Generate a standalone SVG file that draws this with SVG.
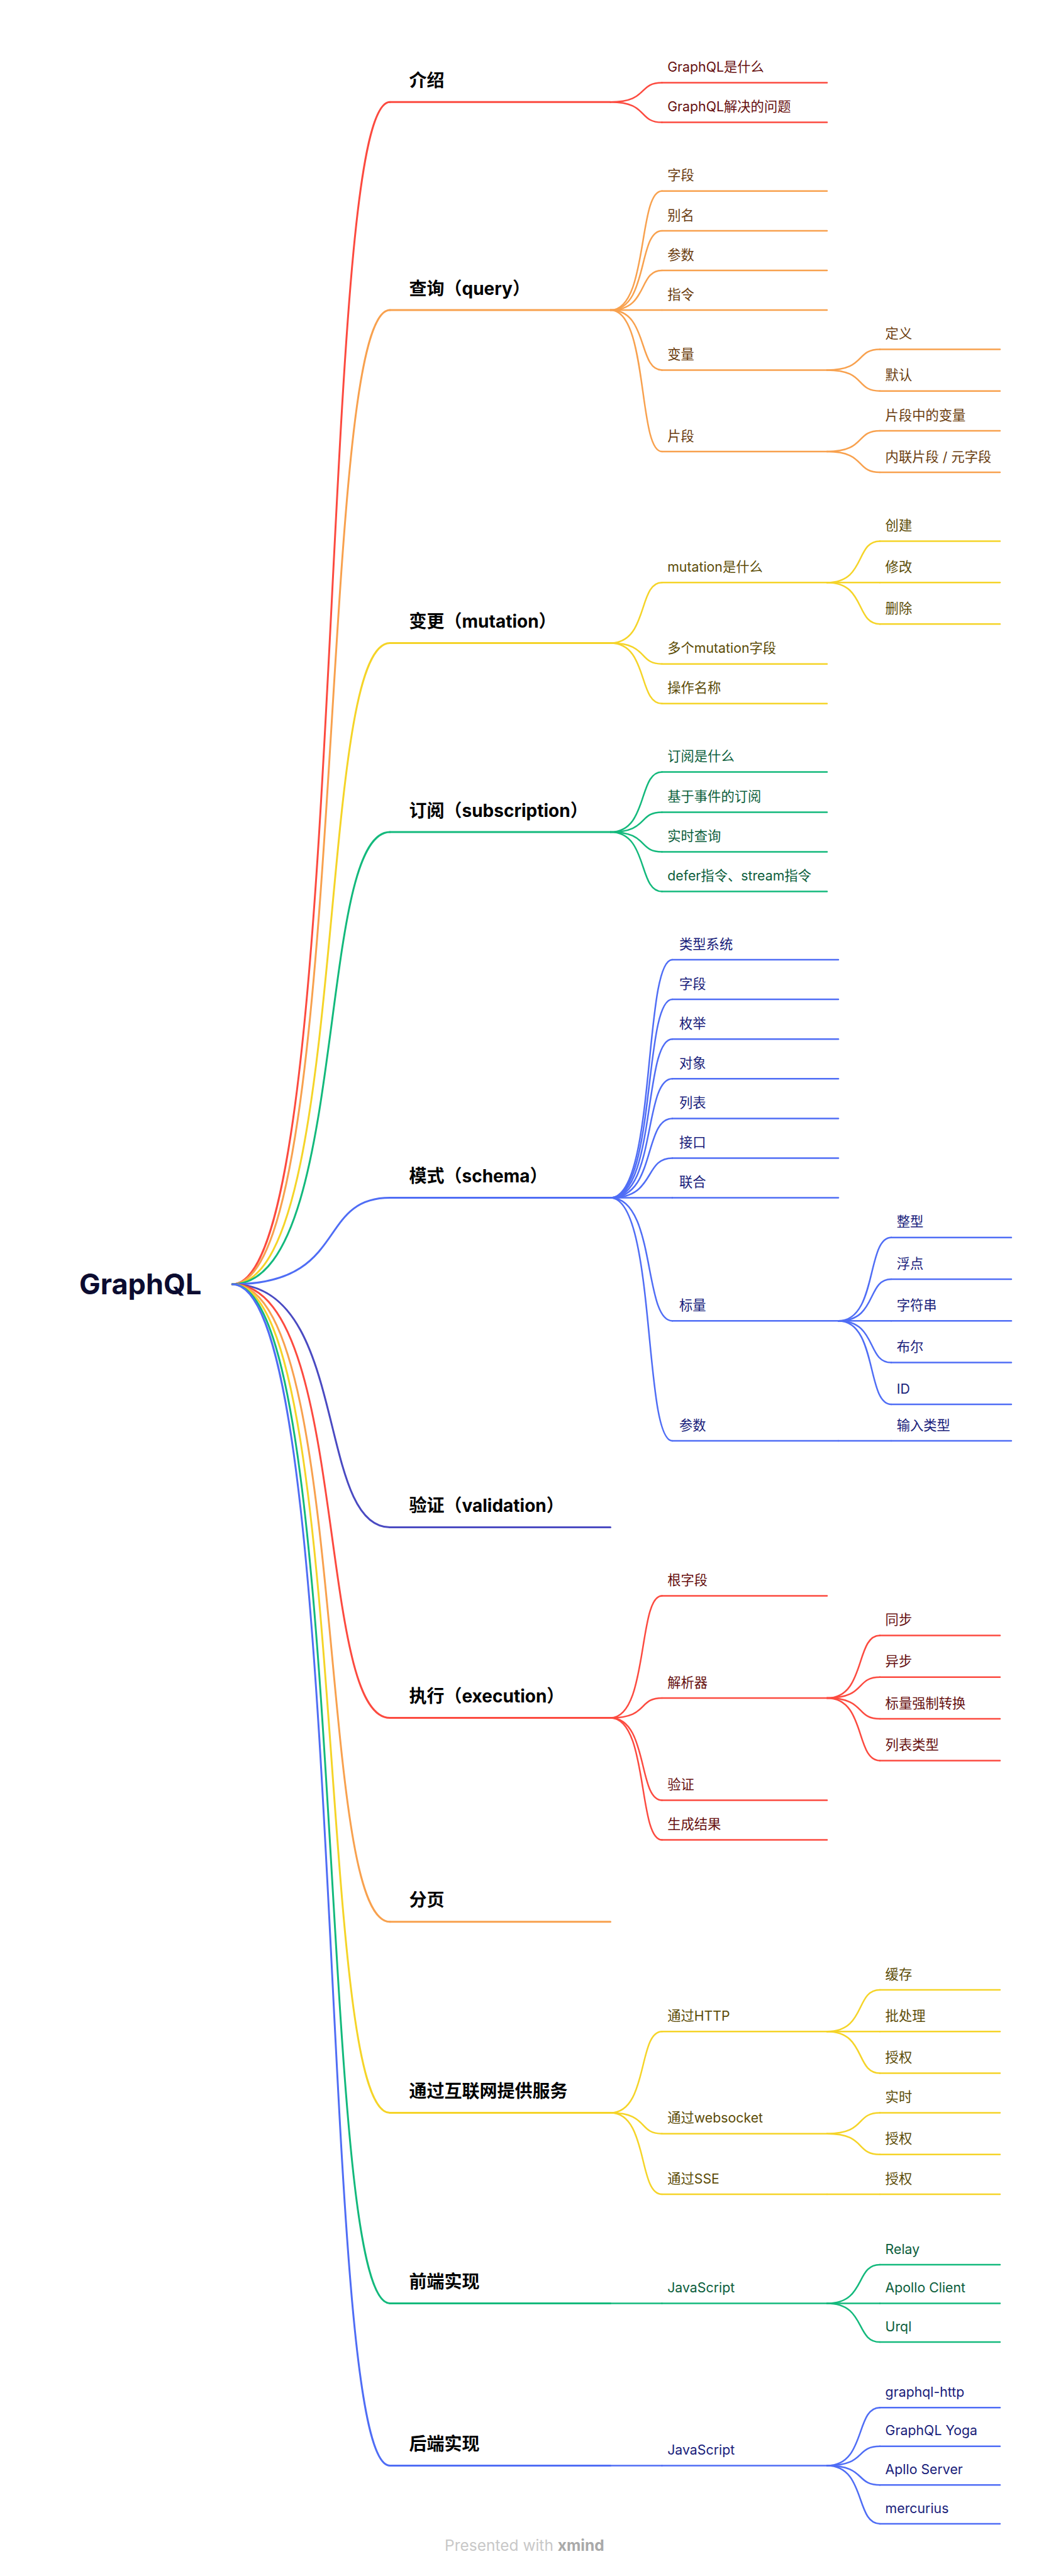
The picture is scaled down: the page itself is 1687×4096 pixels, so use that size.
<svg xmlns="http://www.w3.org/2000/svg" width="1687" height="4096" viewBox="0 0 1687 4096">
<style>
.c{fill:none;stroke-linecap:round}
.w1{stroke-width:3}
.w2{stroke-width:2.5}
.sr{stroke:#FC4A3F}.so{stroke:#F8A14E}.sy{stroke:#F5D428}.sg{stroke:#13B97C}.sb{stroke:#4F6DF5}.si{stroke:#4A4AC2}
text{font-family:Inter,"Noto Sans CJK SC",sans-serif}
.t0{font-size:45px;font-weight:700;fill:#0C0C30}
.t1{font-size:28px;font-weight:700;fill:#000}
.t2{font-size:21.3px}
.fr{fill:#660F0F}.fo{fill:#6B3D0F}.fy{fill:#5C4C06}.fg{fill:#0B5E3C}.fb{fill:#18207A}
.wm{font-size:24.5px;fill:#C8C8C8}
</style>
<rect width="1687" height="4096" fill="#fff"/>
<g id="connectors">
<path class="c w1 sr" d="M369.3 2042C555.3 2042 501.7 162.2 620 162.2"/>
<path class="c w1 so" d="M369.3 2042C555.3 2042 501.7 493.1 620 493.1"/>
<path class="c w1 sy" d="M369.3 2042C555.3 2042 501.7 1022.5 620 1022.5"/>
<path class="c w1 sg" d="M369.3 2042C555.3 2042 501.7 1323 620 1323"/>
<path class="c w1 sb" d="M369.3 2042C555.3 2042 501.7 1904.6 620 1904.6"/>
<path class="c w1 si" d="M369.3 2042C555.3 2042 501.7 2428.5 620 2428.5"/>
<path class="c w1 sr" d="M369.3 2042C555.3 2042 501.7 2731.5 620 2731.5"/>
<path class="c w1 so" d="M369.3 2042C555.3 2042 501.7 3055.8 620 3055.8"/>
<path class="c w1 sy" d="M369.3 2042C555.3 2042 501.7 3359.6 620 3359.6"/>
<path class="c w1 sg" d="M369.3 2042C555.3 2042 501.7 3662.5 620 3662.5"/>
<path class="c w1 sb" d="M369.3 2042C555.3 2042 501.7 3920.5 620 3920.5"/>
<!-- level 2 -->
<path class="c w2 sr" d="M970.5 162.2C1031.3 162.2 1013.8 131.4 1052.5 131.4"/>
<path class="c w2 sr" d="M970.5 162.2C1031.3 162.2 1013.8 194.6 1052.5 194.6"/>
<path class="c w2 so" d="M970.5 493.1C1031.3 493.1 1013.8 303.8 1052.5 303.8"/>
<path class="c w2 so" d="M970.5 493.1C1031.3 493.1 1013.8 366.9 1052.5 366.9"/>
<path class="c w2 so" d="M970.5 493.1C1031.3 493.1 1013.8 430 1052.5 430"/>
<path class="c w2 so" d="M970.5 493.1H1052.5"/>
<path class="c w2 so" d="M970.5 493.1C1031.3 493.1 1013.8 588.4 1052.5 588.4"/>
<path class="c w2 so" d="M970.5 493.1C1031.3 493.1 1013.8 718 1052.5 718"/>
<path class="c w2 sy" d="M970.5 1022.5C1031.3 1022.5 1013.8 926.3 1052.5 926.3"/>
<path class="c w2 sy" d="M970.5 1022.5C1031.3 1022.5 1013.8 1055.7 1052.5 1055.7"/>
<path class="c w2 sy" d="M970.5 1022.5C1031.3 1022.5 1013.8 1118.8 1052.5 1118.8"/>
<path class="c w2 sg" d="M970.5 1323C1031.3 1323 1013.8 1227.5 1052.5 1227.5"/>
<path class="c w2 sg" d="M970.5 1323C1031.3 1323 1013.8 1291.5 1052.5 1291.5"/>
<path class="c w2 sg" d="M970.5 1323C1031.3 1323 1013.8 1354.5 1052.5 1354.5"/>
<path class="c w2 sg" d="M970.5 1323C1031.3 1323 1013.8 1417.6 1052.5 1417.6"/>
<path class="c w2 sb" d="M970.5 1904.6C1043.6 1904.6 1022.5 1525.9 1069 1525.9"/>
<path class="c w2 sb" d="M970.5 1904.6C1043.6 1904.6 1022.5 1589 1069 1589"/>
<path class="c w2 sb" d="M970.5 1904.6C1043.6 1904.6 1022.5 1652.2 1069 1652.2"/>
<path class="c w2 sb" d="M970.5 1904.6C1043.6 1904.6 1022.5 1715.3 1069 1715.3"/>
<path class="c w2 sb" d="M970.5 1904.6C1043.6 1904.6 1022.5 1778.4 1069 1778.4"/>
<path class="c w2 sb" d="M970.5 1904.6C1043.6 1904.6 1022.5 1841.5 1069 1841.5"/>
<path class="c w2 sb" d="M970.5 1904.6H1069"/>
<path class="c w2 sb" d="M970.5 1904.6C1043.6 1904.6 1022.5 2100.3 1069 2100.3"/>
<path class="c w2 sb" d="M970.5 1904.6C1043.6 1904.6 1022.5 2291 1069 2291"/>
<path class="c w2 sr" d="M970.5 2731.5C1031.3 2731.5 1013.8 2537.4 1052.5 2537.4"/>
<path class="c w2 sr" d="M970.5 2731.5C1031.3 2731.5 1013.8 2700 1052.5 2700"/>
<path class="c w2 sr" d="M970.5 2731.5C1031.3 2731.5 1013.8 2862.5 1052.5 2862.5"/>
<path class="c w2 sr" d="M970.5 2731.5C1031.3 2731.5 1013.8 2925.6 1052.5 2925.6"/>
<path class="c w2 sy" d="M970.5 3359.6C1031.3 3359.6 1013.8 3230.2 1052.5 3230.2"/>
<path class="c w2 sy" d="M970.5 3359.6C1031.3 3359.6 1013.8 3392.7 1052.5 3392.7"/>
<path class="c w2 sy" d="M970.5 3359.6C1031.3 3359.6 1013.8 3489 1052.5 3489"/>
<path class="c w2 sg" d="M970.5 3662.5H1052.5"/>
<path class="c w2 sb" d="M970.5 3920.5H1052.5"/>
<!-- level 3 -->
<path class="c w2 so" d="M1315 588.4C1377.3 588.4 1359.4 555.5 1399 555.5"/>
<path class="c w2 so" d="M1315 588.4C1377.3 588.4 1359.4 621.7 1399 621.7"/>
<path class="c w2 so" d="M1315 718C1377.3 718 1359.4 684.9 1399 684.9"/>
<path class="c w2 so" d="M1315 718C1377.3 718 1359.4 751.1 1399 751.1"/>
<path class="c w2 sy" d="M1315 926.3C1377.3 926.3 1359.4 860.4 1399 860.4"/>
<path class="c w2 sy" d="M1315 926.3H1399"/>
<path class="c w2 sy" d="M1315 926.3C1377.3 926.3 1359.4 992.2 1399 992.2"/>
<path class="c w2 sb" d="M1333 2100.3C1395.3 2100.3 1377.4 1967.8 1417 1967.8"/>
<path class="c w2 sb" d="M1333 2100.3C1395.3 2100.3 1377.4 2034 1417 2034"/>
<path class="c w2 sb" d="M1333 2100.3H1417"/>
<path class="c w2 sb" d="M1333 2100.3C1395.3 2100.3 1377.4 2166.6 1417 2166.6"/>
<path class="c w2 sb" d="M1333 2100.3C1395.3 2100.3 1377.4 2232.9 1417 2232.9"/>
<path class="c w2 sb" d="M1333 2291H1417"/>
<path class="c w2 sr" d="M1315 2700C1377.3 2700 1359.4 2600.5 1399 2600.5"/>
<path class="c w2 sr" d="M1315 2700C1377.3 2700 1359.4 2666.8 1399 2666.8"/>
<path class="c w2 sr" d="M1315 2700C1377.3 2700 1359.4 2733.1 1399 2733.1"/>
<path class="c w2 sr" d="M1315 2700C1377.3 2700 1359.4 2799.4 1399 2799.4"/>
<path class="c w2 sy" d="M1315 3230.2C1377.3 3230.2 1359.4 3163.9 1399 3163.9"/>
<path class="c w2 sy" d="M1315 3230.2H1399"/>
<path class="c w2 sy" d="M1315 3230.2C1377.3 3230.2 1359.4 3296.4 1399 3296.4"/>
<path class="c w2 sy" d="M1315 3392.7C1377.3 3392.7 1359.4 3359.6 1399 3359.6"/>
<path class="c w2 sy" d="M1315 3392.7C1377.3 3392.7 1359.4 3425.8 1399 3425.8"/>
<path class="c w2 sy" d="M1315 3489H1399"/>
<path class="c w2 sg" d="M1315 3662.5C1377.3 3662.5 1359.4 3601 1399 3601"/>
<path class="c w2 sg" d="M1315 3662.5H1399"/>
<path class="c w2 sg" d="M1315 3662.5C1377.3 3662.5 1359.4 3724 1399 3724"/>
<path class="c w2 sb" d="M1315 3920.5C1377.3 3920.5 1359.4 3828.2 1399 3828.2"/>
<path class="c w2 sb" d="M1315 3920.5C1377.3 3920.5 1359.4 3889.8 1399 3889.8"/>
<path class="c w2 sb" d="M1315 3920.5C1377.3 3920.5 1359.4 3951.3 1399 3951.3"/>
<path class="c w2 sb" d="M1315 3920.5C1377.3 3920.5 1359.4 4012.9 1399 4012.9"/>
</g>

<g id="root"><text class="t0" x="126" y="2058">GraphQL</text></g>

<g id="n1"><path class="c w1 sr" d="M620 162.2H970.5"/><text class="t1" x="650.5" y="137.7">介绍</text></g>
<g id="n1-1"><path class="c w2 sr" d="M1052.5 131.4H1315"/><text class="t2 fr" x="1061.2" y="114">GraphQL是什么</text></g>
<g id="n1-2"><path class="c w2 sr" d="M1052.5 194.6H1315"/><text class="t2 fr" x="1061.2" y="177.2">GraphQL解决的问题</text></g>

<g id="n2"><path class="c w1 so" d="M620 493.1H970.5"/><text class="t1" x="650.5" y="468.6">查询（query）</text></g>
<g id="n2-1"><path class="c w2 so" d="M1052.5 303.8H1315"/><text class="t2 fo" x="1061.2" y="286.4">字段</text></g>
<g id="n2-2"><path class="c w2 so" d="M1052.5 366.9H1315"/><text class="t2 fo" x="1061.2" y="349.5">别名</text></g>
<g id="n2-3"><path class="c w2 so" d="M1052.5 430H1315"/><text class="t2 fo" x="1061.2" y="412.6">参数</text></g>
<g id="n2-4"><path class="c w2 so" d="M1052.5 493.1H1315"/><text class="t2 fo" x="1061.2" y="475.7">指令</text></g>
<g id="n2-5"><path class="c w2 so" d="M1052.5 588.4H1315"/><text class="t2 fo" x="1061.2" y="571">变量</text></g>
<g id="n2-5-1"><path class="c w2 so" d="M1399 555.5H1590"/><text class="t2 fo" x="1407.6" y="538.1">定义</text></g>
<g id="n2-5-2"><path class="c w2 so" d="M1399 621.7H1590"/><text class="t2 fo" x="1407.6" y="604.3">默认</text></g>
<g id="n2-6"><path class="c w2 so" d="M1052.5 718H1315"/><text class="t2 fo" x="1061.2" y="700.6">片段</text></g>
<g id="n2-6-1"><path class="c w2 so" d="M1399 684.9H1590"/><text class="t2 fo" x="1407.6" y="667.5">片段中的变量</text></g>
<g id="n2-6-2"><path class="c w2 so" d="M1399 751.1H1590"/><text class="t2 fo" x="1407.6" y="733.7">内联片段 / 元字段</text></g>

<g id="n3"><path class="c w1 sy" d="M620 1022.5H970.5"/><text class="t1" x="650.5" y="998">变更（mutation）</text></g>
<g id="n3-1"><path class="c w2 sy" d="M1052.5 926.3H1315"/><text class="t2 fy" x="1061.2" y="908.9">mutation是什么</text></g>
<g id="n3-1-1"><path class="c w2 sy" d="M1399 860.4H1590"/><text class="t2 fy" x="1407.6" y="843">创建</text></g>
<g id="n3-1-2"><path class="c w2 sy" d="M1399 926.3H1590"/><text class="t2 fy" x="1407.6" y="908.9">修改</text></g>
<g id="n3-1-3"><path class="c w2 sy" d="M1399 992.2H1590"/><text class="t2 fy" x="1407.6" y="974.8">删除</text></g>
<g id="n3-2"><path class="c w2 sy" d="M1052.5 1055.7H1315"/><text class="t2 fy" x="1061.2" y="1038.3">多个mutation字段</text></g>
<g id="n3-3"><path class="c w2 sy" d="M1052.5 1118.8H1315"/><text class="t2 fy" x="1061.2" y="1101.4">操作名称</text></g>

<g id="n4"><path class="c w1 sg" d="M620 1323H970.5"/><text class="t1" x="650.5" y="1298.5">订阅（subscription）</text></g>
<g id="n4-1"><path class="c w2 sg" d="M1052.5 1227.5H1315"/><text class="t2 fg" x="1061.2" y="1210.1">订阅是什么</text></g>
<g id="n4-2"><path class="c w2 sg" d="M1052.5 1291.5H1315"/><text class="t2 fg" x="1061.2" y="1274.1">基于事件的订阅</text></g>
<g id="n4-3"><path class="c w2 sg" d="M1052.5 1354.5H1315"/><text class="t2 fg" x="1061.2" y="1337.1">实时查询</text></g>
<g id="n4-4"><path class="c w2 sg" d="M1052.5 1417.6H1315"/><text class="t2 fg" x="1061.2" y="1400.2">defer指令、stream指令</text></g>

<g id="n5"><path class="c w1 sb" d="M620 1904.6H970.5"/><text class="t1" x="650.5" y="1880.1">模式（schema）</text></g>
<g id="n5-1"><path class="c w2 sb" d="M1069 1525.9H1333"/><text class="t2 fb" x="1080" y="1508.5">类型系统</text></g>
<g id="n5-2"><path class="c w2 sb" d="M1069 1589H1333"/><text class="t2 fb" x="1080" y="1571.6">字段</text></g>
<g id="n5-3"><path class="c w2 sb" d="M1069 1652.2H1333"/><text class="t2 fb" x="1080" y="1634.8">枚举</text></g>
<g id="n5-4"><path class="c w2 sb" d="M1069 1715.3H1333"/><text class="t2 fb" x="1080" y="1697.9">对象</text></g>
<g id="n5-5"><path class="c w2 sb" d="M1069 1778.4H1333"/><text class="t2 fb" x="1080" y="1761">列表</text></g>
<g id="n5-6"><path class="c w2 sb" d="M1069 1841.5H1333"/><text class="t2 fb" x="1080" y="1824.1">接口</text></g>
<g id="n5-7"><path class="c w2 sb" d="M1069 1904.6H1333"/><text class="t2 fb" x="1080" y="1887.2">联合</text></g>
<g id="n5-8"><path class="c w2 sb" d="M1069 2100.3H1333"/><text class="t2 fb" x="1080" y="2082.9">标量</text></g>
<g id="n5-8-1"><path class="c w2 sb" d="M1417 1967.8H1608"/><text class="t2 fb" x="1425.7" y="1950.4">整型</text></g>
<g id="n5-8-2"><path class="c w2 sb" d="M1417 2034H1608"/><text class="t2 fb" x="1425.7" y="2016.6">浮点</text></g>
<g id="n5-8-3"><path class="c w2 sb" d="M1417 2100.3H1608"/><text class="t2 fb" x="1425.7" y="2082.9">字符串</text></g>
<g id="n5-8-4"><path class="c w2 sb" d="M1417 2166.6H1608"/><text class="t2 fb" x="1425.7" y="2149.2">布尔</text></g>
<g id="n5-8-5"><path class="c w2 sb" d="M1417 2232.9H1608"/><text class="t2 fb" x="1425.7" y="2215.5">ID</text></g>
<g id="n5-9"><path class="c w2 sb" d="M1069 2291H1333"/><text class="t2 fb" x="1080" y="2273.6">参数</text></g>
<g id="n5-9-1"><path class="c w2 sb" d="M1417 2291H1608"/><text class="t2 fb" x="1425.7" y="2273.6">输入类型</text></g>

<g id="n6"><path class="c w1 si" d="M620 2428.5H970.5"/><text class="t1" x="650.5" y="2404">验证（validation）</text></g>

<g id="n7"><path class="c w1 sr" d="M620 2731.5H970.5"/><text class="t1" x="650.5" y="2707">执行（execution）</text></g>
<g id="n7-1"><path class="c w2 sr" d="M1052.5 2537.4H1315"/><text class="t2 fr" x="1061.2" y="2520">根字段</text></g>
<g id="n7-2"><path class="c w2 sr" d="M1052.5 2700H1315"/><text class="t2 fr" x="1061.2" y="2682.6">解析器</text></g>
<g id="n7-2-1"><path class="c w2 sr" d="M1399 2600.5H1590"/><text class="t2 fr" x="1407.6" y="2583.1">同步</text></g>
<g id="n7-2-2"><path class="c w2 sr" d="M1399 2666.8H1590"/><text class="t2 fr" x="1407.6" y="2649.4">异步</text></g>
<g id="n7-2-3"><path class="c w2 sr" d="M1399 2733.1H1590"/><text class="t2 fr" x="1407.6" y="2715.7">标量强制转换</text></g>
<g id="n7-2-4"><path class="c w2 sr" d="M1399 2799.4H1590"/><text class="t2 fr" x="1407.6" y="2782">列表类型</text></g>
<g id="n7-3"><path class="c w2 sr" d="M1052.5 2862.5H1315"/><text class="t2 fr" x="1061.2" y="2845.1">验证</text></g>
<g id="n7-4"><path class="c w2 sr" d="M1052.5 2925.6H1315"/><text class="t2 fr" x="1061.2" y="2908.2">生成结果</text></g>

<g id="n8"><path class="c w1 so" d="M620 3055.8H970.5"/><text class="t1" x="650.5" y="3031.3">分页</text></g>

<g id="n9"><path class="c w1 sy" d="M620 3359.6H970.5"/><text class="t1" x="650.5" y="3335.1">通过互联网提供服务</text></g>
<g id="n9-1"><path class="c w2 sy" d="M1052.5 3230.2H1315"/><text class="t2 fy" x="1061.2" y="3212.8">通过HTTP</text></g>
<g id="n9-1-1"><path class="c w2 sy" d="M1399 3163.9H1590"/><text class="t2 fy" x="1407.6" y="3146.5">缓存</text></g>
<g id="n9-1-2"><path class="c w2 sy" d="M1399 3230.2H1590"/><text class="t2 fy" x="1407.6" y="3212.8">批处理</text></g>
<g id="n9-1-3"><path class="c w2 sy" d="M1399 3296.4H1590"/><text class="t2 fy" x="1407.6" y="3279">授权</text></g>
<g id="n9-2"><path class="c w2 sy" d="M1052.5 3392.7H1315"/><text class="t2 fy" x="1061.2" y="3375.3">通过websocket</text></g>
<g id="n9-2-1"><path class="c w2 sy" d="M1399 3359.6H1590"/><text class="t2 fy" x="1407.6" y="3342.2">实时</text></g>
<g id="n9-2-2"><path class="c w2 sy" d="M1399 3425.8H1590"/><text class="t2 fy" x="1407.6" y="3408.4">授权</text></g>
<g id="n9-3"><path class="c w2 sy" d="M1052.5 3489H1315"/><text class="t2 fy" x="1061.2" y="3471.6">通过SSE</text></g>
<g id="n9-3-1"><path class="c w2 sy" d="M1399 3489H1590"/><text class="t2 fy" x="1407.6" y="3471.6">授权</text></g>

<g id="n10"><path class="c w1 sg" d="M620 3662.5H970.5"/><text class="t1" x="650.5" y="3638">前端实现</text></g>
<g id="n10-1"><path class="c w2 sg" d="M1052.5 3662.5H1315"/><text class="t2 fg" x="1061.2" y="3645.1">JavaScript</text></g>
<g id="n10-1-1"><path class="c w2 sg" d="M1399 3601H1590"/><text class="t2 fg" x="1407.6" y="3583.6">Relay</text></g>
<g id="n10-1-2"><path class="c w2 sg" d="M1399 3662.5H1590"/><text class="t2 fg" x="1407.6" y="3645.1">Apollo Client</text></g>
<g id="n10-1-3"><path class="c w2 sg" d="M1399 3724H1590"/><text class="t2 fg" x="1407.6" y="3706.6">Urql</text></g>

<g id="n11"><path class="c w1 sb" d="M620 3920.5H970.5"/><text class="t1" x="650.5" y="3896">后端实现</text></g>
<g id="n11-1"><path class="c w2 sb" d="M1052.5 3920.5H1315"/><text class="t2 fb" x="1061.2" y="3903.1">JavaScript</text></g>
<g id="n11-1-1"><path class="c w2 sb" d="M1399 3828.2H1590"/><text class="t2 fb" x="1407.6" y="3810.8">graphql-http</text></g>
<g id="n11-1-2"><path class="c w2 sb" d="M1399 3889.8H1590"/><text class="t2 fb" x="1407.6" y="3872.4">GraphQL Yoga</text></g>
<g id="n11-1-3"><path class="c w2 sb" d="M1399 3951.3H1590"/><text class="t2 fb" x="1407.6" y="3933.9">Apllo Server</text></g>
<g id="n11-1-4"><path class="c w2 sb" d="M1399 4012.9H1590"/><text class="t2 fb" x="1407.6" y="3995.5">mercurius</text></g>

<text class="wm" x="707" y="4056">Presented with <tspan font-weight="700" fill="#A9A9A9">xmind</tspan></text>
</svg>
